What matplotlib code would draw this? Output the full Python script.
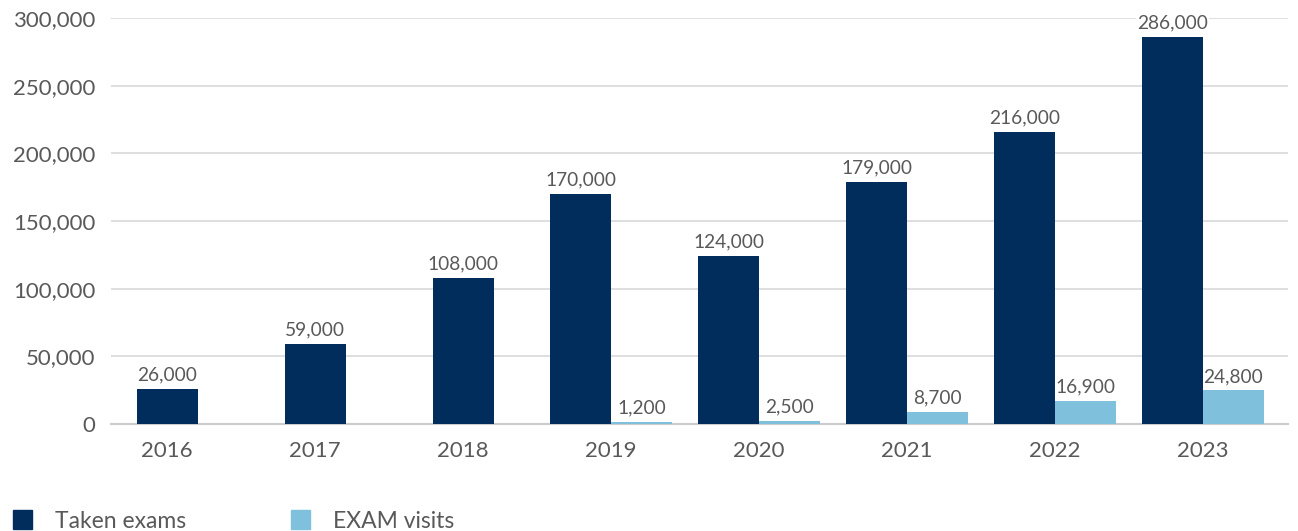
import matplotlib
matplotlib.use("Agg")
import matplotlib.pyplot as plt
from matplotlib.patches import Rectangle
import numpy as np

years = ["2016", "2017", "2018", "2019", "2020", "2021", "2022", "2023"]
taken_exams = [26000, 59000, 108000, 170000, 124000, 179000, 216000, 286000]
exam_visits = [None, None, None, 1200, 2500, 8700, 16900, 24800]
y_ticks = [0, 50000, 100000, 150000, 200000, 250000, 300000]

DARK = "#002d5b"
LIGHT = "#7fc0dc"
TEXT = "#595959"
GRID = "#d9d9d9"

plt.rcParams["font.family"] = ["Lato", "DejaVu Sans"]

W, H = 1298, 531
fig = plt.figure(figsize=(W / 100, H / 100), dpi=100)
ax = fig.add_axes([111 / W, 1 - 424 / H, (1288 - 111) / W, (424 - 18) / H])

bw = 61 / 148
x = np.arange(len(years))
for i, (te, ev) in enumerate(zip(taken_exams, exam_visits)):
    if ev is None:
        xd = x[i]
    else:
        xd = x[i] - bw / 2
        ax.bar(x[i] + bw / 2, ev, width=bw, color=LIGHT, zorder=3)
        ax.annotate(f"{ev:,}", (x[i] + bw / 2, ev), xytext=(0, 4), textcoords="offset points",
                    ha="center", va="bottom", fontsize=13.8, color=TEXT, zorder=2,
                    bbox=dict(facecolor="white", edgecolor="none", pad=1), annotation_clip=False)
    ax.bar(xd, te, width=bw, color=DARK, zorder=3)
    ax.annotate(f"{te:,}", (xd, te), xytext=(0, 4), textcoords="offset points",
                ha="center", va="bottom", fontsize=13.8, color=TEXT, zorder=2,
                bbox=dict(facecolor="white", edgecolor="none", pad=1), annotation_clip=False)

ax.set_xlim((111 - 167) / 148, (1288 - 167) / 148)
ax.set_ylim(0, 300000)
ax.set_yticks(y_ticks)
ax.set_yticklabels([f"{v:,}" for v in y_ticks])
ax.set_xticks(x)
ax.set_xticklabels(years)
ax.tick_params(axis="both", length=0, labelsize=16, labelcolor=TEXT)
ax.tick_params(axis="y", pad=11)
ax.tick_params(axis="x", pad=12)
ax.grid(axis="y", color=GRID, linewidth=1.2, zorder=0)
ax.set_axisbelow(True)
for s in ["top", "right", "left"]:
    ax.spines[s].set_visible(False)
ax.spines["bottom"].set_color("#cccccc")
ax.spines["bottom"].set_linewidth(1.5)
ax.spines["bottom"].set_zorder(1)

# legend
def legend_item(px, color, label, tx):
    fig.patches.append(Rectangle((px / W, 1 - 529 / H), 19 / W, 19 / H,
                                 transform=fig.transFigure, color=color, figure=fig))
    fig.text(tx / W, 1 - 528 / H, label, fontsize=16.5, color=TEXT, ha="left", va="baseline")

legend_item(13, DARK, "Taken exams", 55)
legend_item(291, LIGHT, "EXAM visits", 333)

fig.savefig("out.png", dpi=100)
